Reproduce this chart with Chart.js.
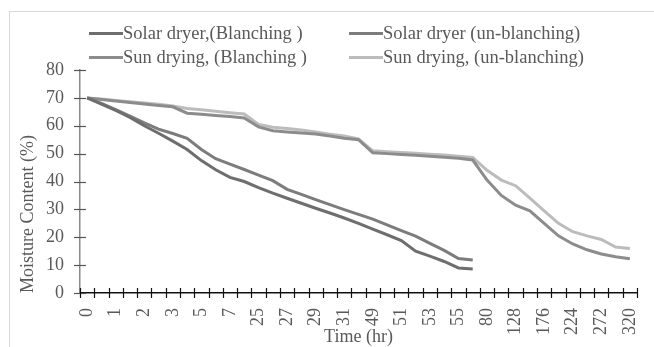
<!DOCTYPE html>
<html>
<head>
<meta charset="utf-8">
<script src="https://cdn.jsdelivr.net/npm/chart.js@4.4.1/dist/chart.umd.min.js"></script>
<style>
  html, body { margin: 0; padding: 0; background: #fff; }
  #wrap { position: relative; width: 654px; height: 347px; overflow: hidden; }
  #c { position: absolute; left: 0; top: 0; }
  #legend { position: absolute; left: 0; top: 0; width: 654px; height: 70px; pointer-events: none;
            font-family: "Liberation Serif", "Times New Roman", serif; font-size: 18.5px; color: #595959; }
  .item { position: absolute; display: flex; align-items: center; white-space: nowrap; height: 22px; }
  .sw { width: 34px; height: 3px; margin-right: 0; }
</style>
</head>
<body>
<div id="wrap">
  <canvas id="c" width="654" height="347"></canvas>
  <div id="legend"></div>
</div>
<script>
// visible x tick labels (every other category), time in hours
const tickLabels = ['0','1','2','3','5','7','25','27','29','31','49','51','53','55','80','128','176','224','272','320'];

const seriesNames = [
  'Solar dryer,(Blanching )',
  'Solar dryer (un-blanching)',
  'Sun drying, (Blanching )',
  'Sun drying, (un-blanching)'
];

const solarBlanching = [70, 67.8, 65.5, 63, 60, 57.3, 54.5, 51.5, 47.5, 44.2, 41.5, 40, 37.8, 35.8,
  34, 32.2, 30.4, 28.7, 26.9, 25, 22.9, 20.9, 18.8, 15, 13.2, 11.3, 9, 8.6];

const solarUnblanching = [70, 68, 65.8, 63.5, 61, 58.8, 57.2, 55.5, 51.5, 48.2, 46.2, 44.3, 42.3, 40.3,
  37.2, 35.4, 33.5, 31.7, 29.9, 28.2, 26.5, 24.4, 22.4, 20.4, 17.8, 15.3, 12.4, 11.8];

const sunBlanching = [70, 69.4, 68.9, 68.3, 67.8, 67.3, 66.8, 64.5, 64.1, 63.7, 63.3, 62.8, 59.6, 58.2,
  57.8, 57.4, 57, 56.3, 55.5, 55, 50.3, 50, 49.7, 49.4, 49.1, 48.7, 48.3, 47.7,
  40.5, 35, 31.5, 29.5, 25, 20.5, 17.6, 15.5, 14, 13, 12.3];

const sunUnblanching = [70, 69.6, 69.1, 68.6, 68.2, 67.7, 67.1, 66.2, 65.7, 65.2, 64.7, 64.2, 60.5, 59.5,
  59, 58.5, 57.8, 57, 56.3, 55.3, 51, 50.7, 50.4, 50.1, 49.8, 49.5, 49.1, 48.6,
  44, 40.5, 38.5, 34, 29.5, 25, 22, 20.5, 19.2, 16.5, 16];

const seriesColors = ['#6e6e6e', '#7c7c7c', '#8c8c8c', '#bcbcbc'];

// categories: one labelled category followed by an unlabelled one
const categories = [];
tickLabels.forEach((t, i) => { categories.push(t); if (i < tickLabels.length - 1) categories.push(''); });

const FONT = '"Liberation Serif", "Times New Roman", serif';
const TXT = '#595959';

const decor = {
  id: 'decor',
  beforeDraw(chart) {
    const ctx = chart.ctx;
    ctx.save();
    ctx.strokeStyle = '#d9d9d9';
    ctx.lineWidth = 1;
    ctx.strokeRect(9.5, 11.5, 700, 400);
    ctx.restore();
  },
  afterDraw(chart) {
    const ctx = chart.ctx;
    const xs = chart.scales.x, ys = chart.scales.y;
    const ca = chart.chartArea;
    ctx.save();
    // y cross ticks
    ctx.strokeStyle = '#555';
    ctx.lineWidth = 1.2;
    ys.ticks.forEach(t => {
      const y = Math.round(ys.getPixelForValue(t.value)) + 0.5;
      ctx.beginPath(); ctx.moveTo(ca.left - 6, y); ctx.lineTo(ca.left + 6, y); ctx.stroke();
    });
    // x cross ticks at category boundaries
    ctx.strokeStyle = '#111';
    const n = categories.length;
    const step = xs.getPixelForValue(1) - xs.getPixelForValue(0);
    for (let i = 0; i <= n; i++) {
      const x = Math.round(xs.getPixelForValue(i) - step / 2) + 0.5;
      ctx.beginPath(); ctx.moveTo(x, ca.bottom - 5); ctx.lineTo(x, ca.bottom + 5); ctx.stroke();
    }
    ctx.restore();
  }
};

const datasets = [solarBlanching, solarUnblanching, sunBlanching, sunUnblanching].map((d, i) => ({
  label: seriesNames[i],
  data: d,
  borderColor: seriesColors[i],
  backgroundColor: seriesColors[i],
  borderWidth: 3,
  pointRadius: 0,
  tension: 0,
  fill: false
}));

const chart = new Chart(document.getElementById('c'), {
  type: 'line',
  data: { labels: categories, datasets },
  options: {
    responsive: false,
    animation: false,
    events: [],
    layout: { padding: { left: 10, right: 17, top: 70, bottom: 0 } },
    plugins: { legend: { display: false }, tooltip: { enabled: false } },
    scales: {
      x: {
        offset: true,
        grid: { display: false, drawTicks: false },
        border: { display: true, color: '#111', width: 1.5 },
        ticks: {
          autoSkip: false, minRotation: 90, maxRotation: 90, padding: 15,
          color: TXT, font: { family: FONT, size: 18 }
        },
        title: {
          display: true, text: 'Time (hr)', color: TXT,
          font: { family: FONT, size: 18 },
          padding: { top: 0, bottom: -1 }
        },
        afterFit(s) { s.height = 54; s.paddingLeft = 0; s.paddingRight = 0; }
      },
      y: {
        min: 0, max: 80,
        grid: { display: false, drawTicks: false },
        border: { display: true, color: '#8a8a8a', width: 1.5 },
        ticks: { stepSize: 10, padding: 16, color: TXT, font: { family: FONT, size: 18 } },
        title: {
          display: true, text: 'Moisture Content (%)', color: TXT, align: 'start',
          font: { family: FONT, size: 18 }, padding: 7
        },
        afterFit(s) { s.width = 70; s.paddingTop = 0; s.paddingBottom = 0; }
      }
    }
  },
  plugins: [decor]
});

// legend built from the chart's datasets
const leg = document.getElementById('legend');
const cols = [89, 349], rows = [22, 46];
chart.data.datasets.forEach((ds, i) => {
  const el = document.createElement('div');
  el.className = 'item';
  el.style.left = cols[i % 2] + 'px';
  el.style.top = rows[Math.floor(i / 2)] + 'px';
  const sw = document.createElement('span');
  sw.className = 'sw';
  sw.style.background = ds.borderColor;
  const tx = document.createElement('span');
  tx.textContent = ds.label;
  el.appendChild(sw); el.appendChild(tx);
  leg.appendChild(el);
});
</script>
</body>
</html>
